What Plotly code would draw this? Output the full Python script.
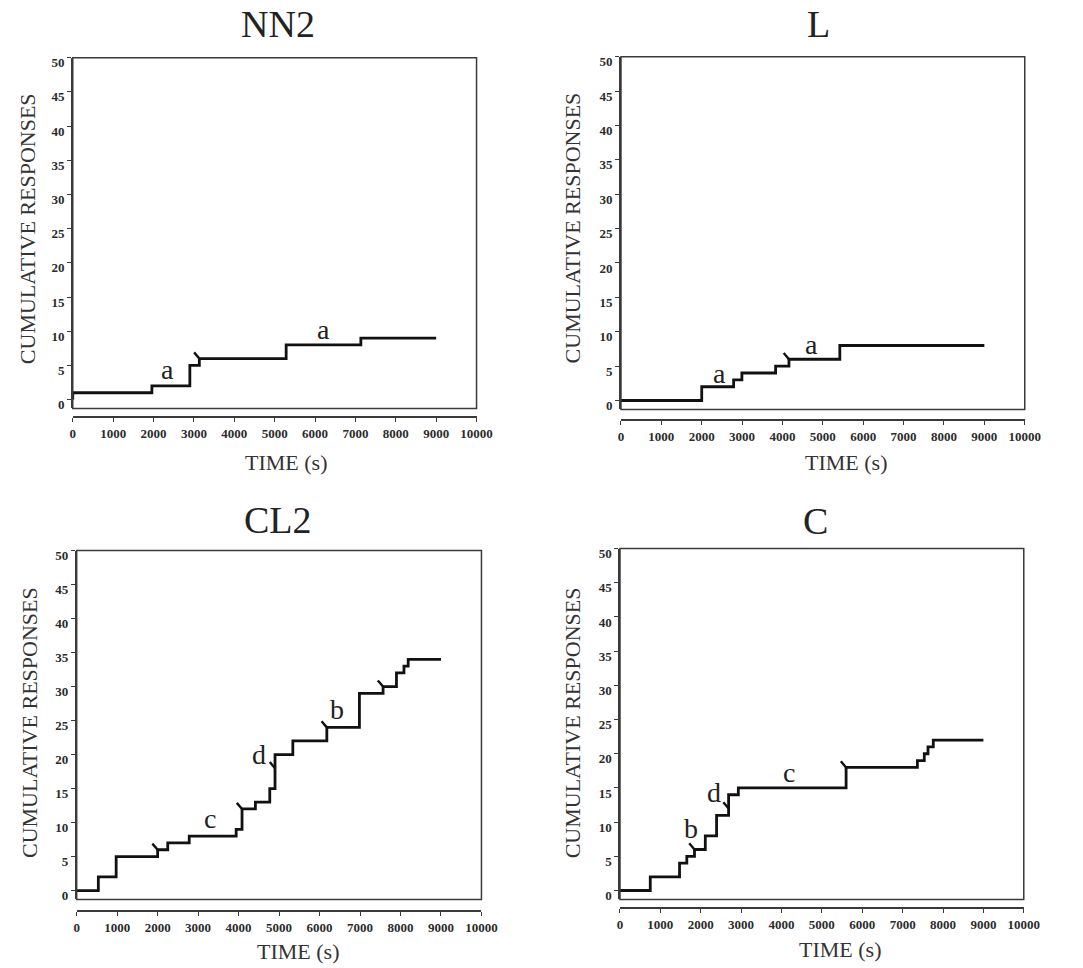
import numpy as np
import plotly.graph_objects as go

# ---- data -------------------------------------------------------------
SESSION_END = 9000          # s
FIXED_RATIO = 6             # every 6th response produces a reinforcer

panel_names = ["NN2", "L", "CL2", "C"]

# response times (s); repeated values are bursts of responses
nn2_times = [0, 1960, 2900, 2900, 2900, 3135, 5285, 5285, 7135]
l_times = [2000, 2000, 2790, 2995, 3830, 4160, 5420, 5420]
cl2_times = [535, 535, 975, 975, 975, 2000, 2250, 2780, 3940,
             4085, 4085, 4085, 4415, 4770, 4770,
             4900, 4900, 4900, 4900, 4900, 5340, 5340, 6180, 6180,
             6985, 6985, 6985, 6985, 6985, 7570, 7900, 7900, 8085, 8190]
c_times = [750, 750, 1475, 1475, 1655, 1845, 2113, 2113,
           2392, 2392, 2392, 2690, 2690, 2690, 2931,
           5600, 5600, 5600, 7365, 7536, 7628, 7759]

# letter labels: (time, cumulative responses, text)
nn2_labels = [(2350, 4.4, "a"), (6200, 10.3, "a")]
l_labels = [(2430, 3.9, "a"), (4715, 8.1, "a")]
cl2_labels = [(3300, 10.6, "c"), (4505, 20.0, "d"), (6437, 26.7, "b")]
c_labels = [(1770, 9.1, "b"), (2340, 14.3, "d"), (4180, 17.3, "c")]

x_ticks = list(range(0, 10001, 1000))
y_ticks = list(range(0, 51, 5))

all_times = [nn2_times, l_times, cl2_times, c_times]
all_labels = [nn2_labels, l_labels, cl2_labels, c_labels]

# ---- layout geometry (pixels in a 1083 x 968 page) ----------------------
W, H = 1083, 968
# (left, right, box top, box bottom, x-axis line)
boxes = [
    (71, 482, 56, 409, 418),
    (629, 1040, 55, 410, 421),
    (75, 487, 552, 903, 915),
    (628, 1039, 550, 903, 912),
]
title_pos = [(280, 22), (830, 22), (280, 521), (827, 522)]
ytitle_pos = [(25, 228), (580, 227), (27, 725), (580, 725)]
xtitle_pos = [(288, 463), (858, 463), (300, 955), (852, 953)]

SERIF = "Liberation Serif, Times New Roman, serif"
INK = "#111111"
FRAME = "#3a3a3a"
TICKCOL = "#2b2b2b"


def px(x):
    return x / W


def py(y):
    return 1 - y / H


fig = go.Figure()

for i, (times, labels) in enumerate(zip(all_times, all_labels)):
    n = i + 1
    xa = "x" if n == 1 else f"x{n}"
    ya = "y" if n == 1 else f"y{n}"
    counts = np.arange(1, len(times) + 1)

    # cumulative record
    xs = [0] + list(times) + [SESSION_END]
    ys = [0] + list(counts) + [int(counts[-1])]
    fig.add_trace(go.Scatter(
        x=xs, y=ys, mode="lines", line=dict(color=INK, width=2.8, shape="hv"),
        xaxis=xa, yaxis=ya, showlegend=False, hoverinfo="skip"))

    # reinforcer pips on every FIXED_RATIO-th response
    hx, hy = [], []
    for t, c in zip(times, counts):
        if c % FIXED_RATIO == 0:
            hx += [t - 130, t, None]
            hy += [c + 0.9, c, None]
    fig.add_trace(go.Scatter(
        x=hx, y=hy, mode="lines", line=dict(color=INK, width=2.4),
        xaxis=xa, yaxis=ya, showlegend=False, hoverinfo="skip"))

    for (t, c, s) in labels:
        fig.add_annotation(x=t, y=c, xref=xa, yref=ya, text=s, showarrow=False,
                           xanchor="center", yanchor="middle",
                           font=dict(family=SERIF, size=28, color="#222"))

    l, r, top, bot, axy = boxes[i]
    xkey = "xaxis" if n == 1 else f"xaxis{n}"
    ykey = "yaxis" if n == 1 else f"yaxis{n}"
    fig.update_layout(**{
        xkey: dict(domain=[px(l), px(r)], range=[0, 10000], anchor="free",
                   position=py(axy), showline=True, linecolor=FRAME, linewidth=1.5,
                   ticks="outside", ticklen=4, tickcolor=FRAME, tickwidth=1,
                   tickvals=x_ticks, ticktext=[str(v) for v in x_ticks],
                   showgrid=False, zeroline=False,
                   tickfont=dict(family=SERIF, size=13, color=TICKCOL, weight="bold")),
        ykey: dict(domain=[py(bot), py(top)], range=[-1.3, 50], anchor=xa,
                   showline=True, linecolor=FRAME, linewidth=1.5,
                   ticks="outside", ticklen=4, tickcolor=FRAME, tickwidth=1,
                   tickvals=y_ticks, ticktext=[str(v) for v in y_ticks],
                   ticklabelshift=5, ticklabelstandoff=0,
                   showgrid=False, zeroline=False,
                   tickfont=dict(family=SERIF, size=13, color=TICKCOL, weight="bold")),
    })
    # plot frame
    fig.add_shape(type="rect", xref=f"{xa} domain", yref=f"{ya} domain",
                  x0=0, x1=1, y0=0, y1=1, line=dict(color=FRAME, width=1.5))

    tx, ty = title_pos[i]
    fig.add_annotation(x=px(tx), y=py(ty), xref="paper", yref="paper",
                       xanchor="center", yanchor="middle",
                       text=panel_names[i], showarrow=False,
                       font=dict(family=SERIF, size=38, color="#222"))
    yx, yy = ytitle_pos[i]
    fig.add_annotation(x=px(yx), y=py(yy), xref="paper", yref="paper",
                       xanchor="center", yanchor="middle",
                       text="CUMULATIVE RESPONSES", textangle=-90, showarrow=False,
                       font=dict(family=SERIF, size=22, color="#333"))
    xx, xy = xtitle_pos[i]
    fig.add_annotation(x=px(xx), y=py(xy), xref="paper", yref="paper",
                       xanchor="center", yanchor="middle",
                       text="TIME (s)", showarrow=False,
                       font=dict(family=SERIF, size=22, color="#333"))

fig.update_layout(width=W, height=H, margin=dict(l=0, r=0, t=0, b=0),
                  paper_bgcolor="white", plot_bgcolor="white")

fig.write_html("out.html")
